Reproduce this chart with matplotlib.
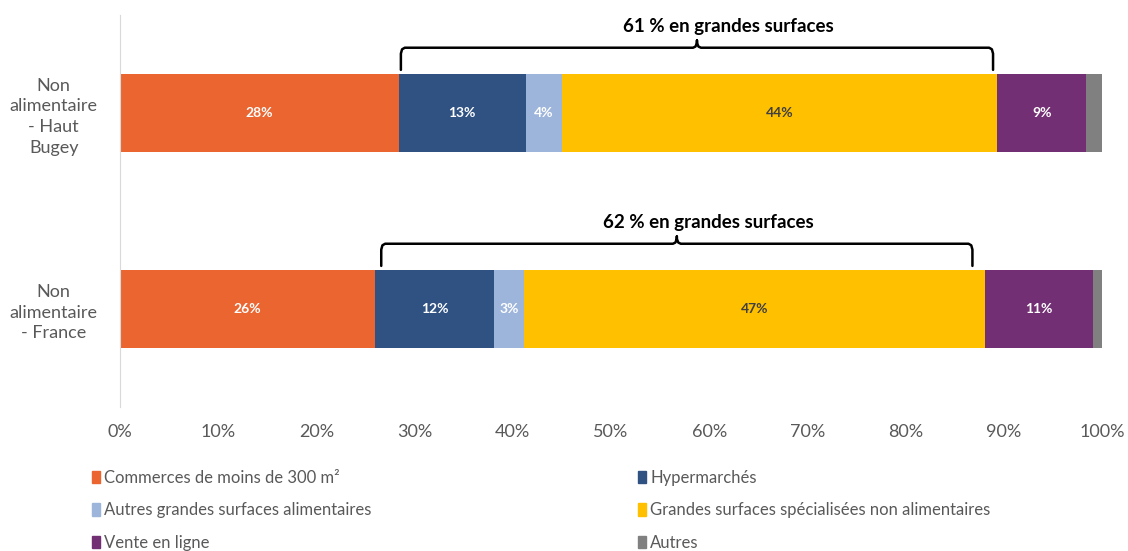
import matplotlib.pyplot as plt
from matplotlib.patches import Patch

plt.rcParams['font.family'] = ['Lato', 'DejaVu Sans']

categories = ["Non\nalimentaire\n- France", "Non\nalimentaire\n- Haut\nBugey"]
series = ["Commerces de moins de 300 m²", "Hypermarchés",
          "Autres grandes surfaces alimentaires",
          "Grandes surfaces spécialisées non alimentaires",
          "Vente en ligne", "Autres"]
# values in %, row order = categories (France, Haut Bugey)
commerces = [26.0, 28.4]
hyper = [12.1, 12.9]
autres_ga = [3.0, 3.7]
gss = [47.0, 44.3]
vente = [11.0, 9.1]
autres = [0.9, 1.6]
labels_commerces = ["26%", "28%"]
labels_hyper = ["12%", "13%"]
labels_autres_ga = ["3%", "4%"]
labels_gss = ["47%", "44%"]
labels_vente = ["11%", "9%"]
brace_text = ["62 % en grandes surfaces", "61 % en grandes surfaces"]
brace_start = [26.6, 28.6]
brace_end = [86.8, 88.9]

colors = ["#EB6530", "#2F5283", "#9DB5DB", "#FFC000", "#732F73", "#808080"]
label_colors = ["white", "white", "white", "#404040", "white", None]

fig = plt.figure(figsize=(11.28, 5.51), dpi=100)
ax = fig.add_axes([0.1064, 0.2613, 0.8706, 0.7115])

data = [commerces, hyper, autres_ga, gss, vente, autres]
labels = [labels_commerces, labels_hyper, labels_autres_ga, labels_gss, labels_vente, None]
y = [0, 1]
left = [0.0, 0.0]
for vals, col, lab, lc in zip(data, colors, labels, label_colors):
    ax.barh(y, vals, left=left, height=0.4, color=col)
    if lab is not None:
        for i in range(2):
            ax.text(left[i] + vals[i] / 2, y[i], lab[i], ha='center', va='center',
                    color=lc, fontsize=10, fontweight='bold')
    left = [l + v for l, v in zip(left, vals)]

# braces
for i in range(2):
    x0, x1 = brace_start[i], brace_end[i]
    xm = (x0 + x1) / 2
    yb, yh, yt = y[i] + 0.22, y[i] + 0.333, y[i] + 0.37
    r = 0.4
    xs = [x0, x0, x0 + r * 0.3, x0 + r, xm - r, xm - 0.15, xm, xm, xm,
          xm + 0.15, xm + r, x1 - r, x1 - r * 0.3, x1, x1]
    ys = [yb, yh - 0.03, yh - 0.008, yh, yh, yh + 0.006, yh + 0.025, yt, yh + 0.025,
          yh + 0.006, yh, yh, yh - 0.008, yh - 0.03, yb]
    ax.plot(xs, ys, color='black', lw=1.8, solid_joinstyle='round', solid_capstyle='round')
    ax.text(xm + 3.2, y[i] + 0.44, brace_text[i], ha='center', va='center',
            fontsize=13.5, fontweight='bold', color='black')

ax.set_xlim(0, 100)
ax.set_ylim(-0.5, 1.5)
ax.set_xticks(range(0, 101, 10))
ax.set_xticklabels([f"{t}%" for t in range(0, 101, 10)])
ax.set_yticks(y)
ax.set_yticklabels(categories, multialignment='center', linespacing=1.35)
ax.tick_params(axis='both', length=0, labelsize=13, labelcolor='#595959')
ax.tick_params(axis='x', pad=12)
ax.tick_params(axis='y', pad=16)
for s in ['top', 'right', 'bottom']:
    ax.spines[s].set_visible(False)
ax.spines['left'].set_color('#D9D9D9')

handles = [Patch(color=c) for c in colors]
kw = dict(frameon=False, fontsize=12, handlelength=0.5, handleheight=0.75,
          handletextpad=0.25, labelspacing=1.0, labelcolor='#595959')
fig.legend([handles[0], handles[2], handles[4]], [series[0], series[2], series[4]],
           loc='upper left', bbox_to_anchor=(0.068, 0.175), **kw)
fig.legend([handles[1], handles[3], handles[5]], [series[1], series[3], series[5]],
           loc='upper left', bbox_to_anchor=(0.552, 0.175), **kw)

fig.savefig("out.png", dpi=100)
